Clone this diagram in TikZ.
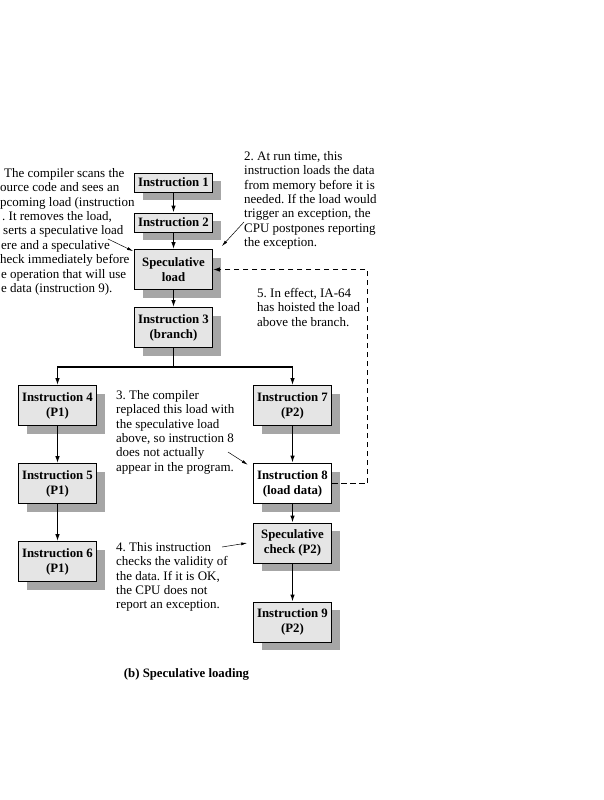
\documentclass[tikz,border=0pt]{standalone}
\usepackage{fontspec}
\setmainfont{Liberation Serif}
\usetikzlibrary{arrows.meta,shadows,calc}
\frenchspacing

\tikzset{
  inst/.style={draw, line width=0.8pt, fill=gray!20, minimum width=78pt,
    minimum height=19pt, inner sep=1pt, align=center,
    font=\fontsize{12.8}{15}\selectfont\bfseries,
    drop shadow={shadow xshift=8pt, shadow yshift=-8pt, fill=gray!70, opacity=1}},
  tall/.style={minimum height=40pt},
  flow/.style={line width=1.2pt, -{Latex[length=7pt,width=4.5pt]}},
  note/.style={align=left, inner sep=0pt, anchor=north west,
    font=\fontsize{13}{14.4}\selectfont},
  hint/.style={line width=0.5pt, -{Latex[length=6pt,width=3pt]}},
}

\begin{document}
\begin{tikzpicture}[x=1pt,y=-1pt]
	\useasboundingbox (0,0) rectangle (604,800);

	% main path
	\node[inst] (inst1) at (173.5,182.5) {Instruction 1};
	\node[inst] (inst2) at (173.5,222.5) {Instruction 2};
	\node[inst,tall] (specload) at (173.5,269.5) {Speculative\\load};
	\node[inst,tall] (inst3) at (173.5,327.5) {Instruction 3\\(branch)};

	% left branch
	\node[inst,tall] (inst4) at (57.5,405.5) {Instruction 4\\(P1)};
	\node[inst,tall] (inst5) at (57.5,483.5) {Instruction 5\\(P1)};
	\node[inst,tall] (inst6) at (57.5,561.5) {Instruction 6\\(P1)};

	% right branch
	\node[inst,tall] (inst7) at (292.5,405.5) {Instruction 7\\(P2)};
	\node[inst,tall,fill=white,line width=1.6pt] (inst8) at (292.5,483.5) {Instruction 8\\(load data)};
	\node[inst,tall] (speccheck) at (292.5,543) {Speculative\\check (P2)};
	\node[inst,tall] (inst9) at (292.5,622) {Instruction 9\\(P2)};

	\draw[flow] (inst1) -- (inst2);
	\draw[flow] (inst2) -- (specload);
	\draw[flow] (specload) -- (inst3);
	\coordinate (fork) at (173.5,367);
	\draw[line width=1.2pt] (inst3.south) -- (fork);
	\draw[flow] (fork) -| (inst4.north);
	\draw[flow] (fork) -| (inst7.north);
	\draw[flow] (inst4) -- (inst5);
	\draw[flow] (inst5) -- (inst6);
	\draw[flow] (inst7) -- (inst8);
	\draw[flow] (inst8) -- (speccheck);
	\draw[flow] (speccheck) -- (inst9);

	% hoisting
	\draw[line width=1.2pt, dash pattern=on 5.5pt off 3.5pt, -{Latex[length=7pt,width=4.5pt]}]
		(inst8.east) -- ++(35.5,0) |- (specload.east);

	% notes
	\node[note] (note1) at (0,168) {\hspace{4pt}The compiler scans the\\ource code and sees an\\pcoming load (instruction\\\hspace*{2pt}. It removes the load,\\\hspace*{3pt}serts a speculative load\\\hspace*{1pt}ere and a speculative\\heck immediately before\\\hspace*{1pt}e operation that will use\\\hspace*{1pt}e data (instruction 9).};
	\node[note] (note2) at (244,151) {2. At run time, this\\instruction loads the data\\from memory before it is\\needed. If the load would\\trigger an exception, the\\CPU postpones reporting\\the exception.};
	\node[note] (note5) at (257,288) {5. In effect, IA-64\\has hoisted the load\\above the branch.};
	\node[note] (note3) at (116,390) {3. The compiler\\replaced this load with\\the speculative load\\above, so instruction 8\\does not actually\\appear in the program.};
	\node[note] (note4) at (116,542) {4. This instruction\\checks the validity of\\the data. If it is OK,\\the CPU does not\\report an exception.};

	\coordinate (h1) at (108,239);
	\coordinate (h2) at (244,222);
	\coordinate (h3) at (228,452);
	\coordinate (h4) at (222,547);
	\draw[hint] (h1) -- ($(specload.north west)+(-1,2)$);
	\draw[hint] (h2) -- ($(specload.north east)+(9,-3)$);
	\draw[hint] (h3) -- ($(inst8.north west)+(-5,2)$);
	\draw[hint] (h4) -- ($(speccheck.west)+(-6,0)$);

	\node[font=\fontsize{12.8}{15}\selectfont\bfseries] (caption) at (186.5,674) {(b) Speculative loading};
\end{tikzpicture}
\end{document}
